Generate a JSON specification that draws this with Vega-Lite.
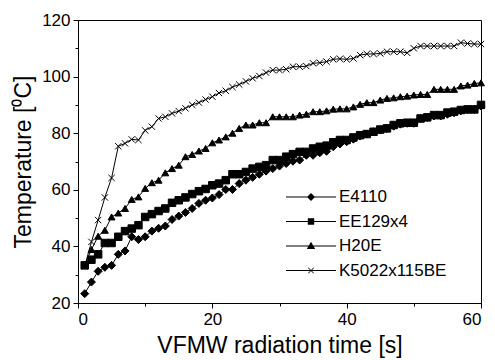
{
"$schema": "https://vega.github.io/schema/vega-lite/v6.json",
"width": 403, "height": 283,
"autosize": "none",
"padding": {"left": 78, "top": 20, "right": 14, "bottom": 57},
"background": "white",
"config": {
  "view": {"stroke": "black", "strokeWidth": 1},
  "font": "Liberation Sans",
  "axis": {"grid": false, "domainColor": "black", "tickColor": "black", "labelColor": "black", "titleColor": "black", "labelFont": "Liberation Sans", "titleFont": "Liberation Sans", "labelFontSize": 17, "titleFontSize": 23, "titleFontWeight": "normal", "domainWidth": 1, "tickWidth": 1}
},
"data": {"values": [
{"t":1,"s":"E4110","T":23.3},{"t":2,"s":"E4110","T":27.4},{"t":3,"s":"E4110","T":31.2},{"t":4,"s":"E4110","T":32.6},{"t":5,"s":"E4110","T":33.3},{"t":6,"s":"E4110","T":37.2},{"t":7,"s":"E4110","T":38.4},{"t":8,"s":"E4110","T":43.4},{"t":9,"s":"E4110","T":42.4},{"t":10,"s":"E4110","T":43.4},
{"t":11,"s":"E4110","T":45.4},{"t":12,"s":"E4110","T":46.4},{"t":13,"s":"E4110","T":47.2},{"t":14,"s":"E4110","T":49.5},{"t":15,"s":"E4110","T":50.7},{"t":16,"s":"E4110","T":52.0},{"t":17,"s":"E4110","T":53.4},{"t":18,"s":"E4110","T":55.2},{"t":19,"s":"E4110","T":56.3},{"t":20,"s":"E4110","T":57.1},
{"t":21,"s":"E4110","T":58.3},{"t":22,"s":"E4110","T":60.1},{"t":23,"s":"E4110","T":60.1},{"t":24,"s":"E4110","T":62.2},{"t":25,"s":"E4110","T":63.4},{"t":26,"s":"E4110","T":64.4},{"t":27,"s":"E4110","T":65.5},{"t":28,"s":"E4110","T":66.6},{"t":29,"s":"E4110","T":67.5},{"t":30,"s":"E4110","T":68.4},
{"t":31,"s":"E4110","T":69.3},{"t":32,"s":"E4110","T":70.1},{"t":33,"s":"E4110","T":70.5},{"t":34,"s":"E4110","T":72.2},{"t":35,"s":"E4110","T":72.2},{"t":36,"s":"E4110","T":73.1},{"t":37,"s":"E4110","T":73.6},{"t":38,"s":"E4110","T":75.2},{"t":39,"s":"E4110","T":76.2},{"t":40,"s":"E4110","T":77.0},
{"t":41,"s":"E4110","T":77.9},{"t":42,"s":"E4110","T":79.0},{"t":43,"s":"E4110","T":79.7},{"t":44,"s":"E4110","T":80.5},{"t":45,"s":"E4110","T":81.1},{"t":46,"s":"E4110","T":81.7},{"t":47,"s":"E4110","T":82.5},{"t":48,"s":"E4110","T":83.2},{"t":49,"s":"E4110","T":83.5},{"t":50,"s":"E4110","T":83.5},
{"t":51,"s":"E4110","T":85.2},{"t":52,"s":"E4110","T":85.6},{"t":53,"s":"E4110","T":86.1},{"t":54,"s":"E4110","T":86.1},{"t":55,"s":"E4110","T":86.7},{"t":56,"s":"E4110","T":87.2},{"t":57,"s":"E4110","T":87.9},{"t":58,"s":"E4110","T":88.4},{"t":59,"s":"E4110","T":88.4},{"t":60,"s":"E4110","T":89.6},
{"t":1,"s":"EE129x4","T":33.3},{"t":2,"s":"EE129x4","T":35.3},{"t":3,"s":"EE129x4","T":37.2},{"t":4,"s":"EE129x4","T":41.2},{"t":5,"s":"EE129x4","T":41.2},{"t":6,"s":"EE129x4","T":43.4},{"t":7,"s":"EE129x4","T":45.4},{"t":8,"s":"EE129x4","T":46.3},{"t":9,"s":"EE129x4","T":47.5},{"t":10,"s":"EE129x4","T":50.4},
{"t":11,"s":"EE129x4","T":51.4},{"t":12,"s":"EE129x4","T":52.5},{"t":13,"s":"EE129x4","T":53.4},{"t":14,"s":"EE129x4","T":55.4},{"t":15,"s":"EE129x4","T":56.3},{"t":16,"s":"EE129x4","T":57.3},{"t":17,"s":"EE129x4","T":58.5},{"t":18,"s":"EE129x4","T":59.5},{"t":19,"s":"EE129x4","T":60.3},{"t":20,"s":"EE129x4","T":61.6},
{"t":21,"s":"EE129x4","T":62.2},{"t":22,"s":"EE129x4","T":63.4},{"t":23,"s":"EE129x4","T":65.5},{"t":24,"s":"EE129x4","T":65.5},{"t":25,"s":"EE129x4","T":66.3},{"t":26,"s":"EE129x4","T":67.5},{"t":27,"s":"EE129x4","T":68.1},{"t":28,"s":"EE129x4","T":68.7},{"t":29,"s":"EE129x4","T":70.5},{"t":30,"s":"EE129x4","T":70.5},
{"t":31,"s":"EE129x4","T":71.7},{"t":32,"s":"EE129x4","T":72.6},{"t":33,"s":"EE129x4","T":73.4},{"t":34,"s":"EE129x4","T":73.4},{"t":35,"s":"EE129x4","T":74.6},{"t":36,"s":"EE129x4","T":75.2},{"t":37,"s":"EE129x4","T":75.6},{"t":38,"s":"EE129x4","T":76.8},{"t":39,"s":"EE129x4","T":77.6},{"t":40,"s":"EE129x4","T":77.6},
{"t":41,"s":"EE129x4","T":78.5},{"t":42,"s":"EE129x4","T":79.3},{"t":43,"s":"EE129x4","T":79.7},{"t":44,"s":"EE129x4","T":80.5},{"t":45,"s":"EE129x4","T":81.3},{"t":46,"s":"EE129x4","T":81.7},{"t":47,"s":"EE129x4","T":82.9},{"t":48,"s":"EE129x4","T":83.5},{"t":49,"s":"EE129x4","T":83.7},{"t":50,"s":"EE129x4","T":83.7},
{"t":51,"s":"EE129x4","T":85.2},{"t":52,"s":"EE129x4","T":85.6},{"t":53,"s":"EE129x4","T":86.4},{"t":54,"s":"EE129x4","T":86.4},{"t":55,"s":"EE129x4","T":87.3},{"t":56,"s":"EE129x4","T":87.6},{"t":57,"s":"EE129x4","T":88.2},{"t":58,"s":"EE129x4","T":88.4},{"t":59,"s":"EE129x4","T":88.4},{"t":60,"s":"EE129x4","T":90.0},
{"t":1,"s":"H20E","T":33.5},{"t":2,"s":"H20E","T":38.9},{"t":3,"s":"H20E","T":43.6},{"t":4,"s":"H20E","T":45.7},{"t":5,"s":"H20E","T":50.4},{"t":6,"s":"H20E","T":51.8},{"t":7,"s":"H20E","T":53.4},{"t":8,"s":"H20E","T":56.6},{"t":9,"s":"H20E","T":57.5},{"t":10,"s":"H20E","T":60.5},
{"t":11,"s":"H20E","T":62.5},{"t":12,"s":"H20E","T":63.4},{"t":13,"s":"H20E","T":66.0},{"t":14,"s":"H20E","T":67.5},{"t":15,"s":"H20E","T":68.7},{"t":16,"s":"H20E","T":71.7},{"t":17,"s":"H20E","T":72.5},{"t":18,"s":"H20E","T":73.7},{"t":19,"s":"H20E","T":74.6},{"t":20,"s":"H20E","T":76.6},
{"t":21,"s":"H20E","T":77.6},{"t":22,"s":"H20E","T":78.7},{"t":23,"s":"H20E","T":80.0},{"t":24,"s":"H20E","T":81.7},{"t":25,"s":"H20E","T":82.9},{"t":26,"s":"H20E","T":82.9},{"t":27,"s":"H20E","T":83.7},{"t":28,"s":"H20E","T":83.7},{"t":29,"s":"H20E","T":85.8},{"t":30,"s":"H20E","T":85.8},
{"t":31,"s":"H20E","T":85.8},{"t":32,"s":"H20E","T":85.8},{"t":33,"s":"H20E","T":86.4},{"t":34,"s":"H20E","T":86.7},{"t":35,"s":"H20E","T":87.6},{"t":36,"s":"H20E","T":87.6},{"t":37,"s":"H20E","T":87.9},{"t":38,"s":"H20E","T":88.5},{"t":39,"s":"H20E","T":88.6},{"t":40,"s":"H20E","T":88.6},
{"t":41,"s":"H20E","T":89.3},{"t":42,"s":"H20E","T":90.2},{"t":43,"s":"H20E","T":90.8},{"t":44,"s":"H20E","T":90.8},{"t":45,"s":"H20E","T":91.7},{"t":46,"s":"H20E","T":92.3},{"t":47,"s":"H20E","T":92.5},{"t":48,"s":"H20E","T":92.9},{"t":49,"s":"H20E","T":93.1},{"t":50,"s":"H20E","T":93.5},
{"t":51,"s":"H20E","T":93.7},{"t":52,"s":"H20E","T":93.7},{"t":53,"s":"H20E","T":95.5},{"t":54,"s":"H20E","T":95.5},{"t":55,"s":"H20E","T":95.5},{"t":56,"s":"H20E","T":95.5},{"t":57,"s":"H20E","T":96.7},{"t":58,"s":"H20E","T":97.0},{"t":59,"s":"H20E","T":97.6},{"t":60,"s":"H20E","T":97.8},
{"t":1,"s":"K5022x115BE","T":33.0},{"t":2,"s":"K5022x115BE","T":41.6},{"t":3,"s":"K5022x115BE","T":49.3},{"t":4,"s":"K5022x115BE","T":57.3},{"t":5,"s":"K5022x115BE","T":64.2},{"t":6,"s":"K5022x115BE","T":75.4},{"t":7,"s":"K5022x115BE","T":76.4},{"t":8,"s":"K5022x115BE","T":77.8},{"t":9,"s":"K5022x115BE","T":77.6},{"t":10,"s":"K5022x115BE","T":81.0},
{"t":11,"s":"K5022x115BE","T":82.3},{"t":12,"s":"K5022x115BE","T":85.2},{"t":13,"s":"K5022x115BE","T":85.8},{"t":14,"s":"K5022x115BE","T":87.0},{"t":15,"s":"K5022x115BE","T":87.8},{"t":16,"s":"K5022x115BE","T":88.8},{"t":17,"s":"K5022x115BE","T":90.0},{"t":18,"s":"K5022x115BE","T":90.8},{"t":19,"s":"K5022x115BE","T":91.9},{"t":20,"s":"K5022x115BE","T":92.9},
{"t":21,"s":"K5022x115BE","T":94.2},{"t":22,"s":"K5022x115BE","T":95.0},{"t":23,"s":"K5022x115BE","T":96.3},{"t":24,"s":"K5022x115BE","T":97.2},{"t":25,"s":"K5022x115BE","T":98.3},{"t":26,"s":"K5022x115BE","T":99.4},{"t":27,"s":"K5022x115BE","T":100.2},{"t":28,"s":"K5022x115BE","T":101.4},{"t":29,"s":"K5022x115BE","T":102.3},{"t":30,"s":"K5022x115BE","T":102.3},
{"t":31,"s":"K5022x115BE","T":102.6},{"t":32,"s":"K5022x115BE","T":103.5},{"t":33,"s":"K5022x115BE","T":103.5},{"t":34,"s":"K5022x115BE","T":103.7},{"t":35,"s":"K5022x115BE","T":104.7},{"t":36,"s":"K5022x115BE","T":104.9},{"t":37,"s":"K5022x115BE","T":105.3},{"t":38,"s":"K5022x115BE","T":106.1},{"t":39,"s":"K5022x115BE","T":106.3},{"t":40,"s":"K5022x115BE","T":106.1},
{"t":41,"s":"K5022x115BE","T":106.4},{"t":42,"s":"K5022x115BE","T":107.6},{"t":43,"s":"K5022x115BE","T":108.0},{"t":44,"s":"K5022x115BE","T":108.0},{"t":45,"s":"K5022x115BE","T":108.2},{"t":46,"s":"K5022x115BE","T":108.8},{"t":47,"s":"K5022x115BE","T":108.8},{"t":48,"s":"K5022x115BE","T":108.8},{"t":49,"s":"K5022x115BE","T":108.4},{"t":50,"s":"K5022x115BE","T":110.0},
{"t":51,"s":"K5022x115BE","T":110.8},{"t":52,"s":"K5022x115BE","T":110.8},{"t":53,"s":"K5022x115BE","T":110.8},{"t":54,"s":"K5022x115BE","T":110.8},{"t":55,"s":"K5022x115BE","T":110.8},{"t":56,"s":"K5022x115BE","T":110.8},{"t":57,"s":"K5022x115BE","T":112.0},{"t":58,"s":"K5022x115BE","T":111.7},{"t":59,"s":"K5022x115BE","T":111.5},{"t":60,"s":"K5022x115BE","T":111.5}
]},
"encoding": {
  "x": {"field": "t", "type": "quantitative", "scale": {"domain": [0, 60], "nice": false},
        "axis": {"title": "VFMW radiation time [s]", "values": [0,10,20,30,40,50,60], "labelExpr": "datum.value % 20 === 0 ? datum.label : ''", "tickSize": {"condition": {"test": "datum.value % 20 === 0", "value": 5}, "value": 3}, "labelPadding": 3, "titlePadding": 7}},
  "y": {"field": "T", "type": "quantitative", "scale": {"domain": [20, 120], "nice": false, "zero": false},
        "axis": {"title": "Temperature [⁰C]", "values": [20,30,40,50,60,70,80,90,100,110,120], "labelExpr": "datum.value % 20 === 0 ? datum.label : ''", "tickSize": {"condition": {"test": "datum.value % 20 === 0", "value": 5}, "value": 3}, "labelPadding": 3, "titlePadding": 6}}
},
"layer": [
  {"mark": {"type": "line", "color": "black", "strokeWidth": 1},
   "encoding": {"detail": {"field": "s", "type": "nominal"}}},
  {"mark": {"type": "point", "filled": true, "color": "black", "stroke": "black", "strokeWidth": 1, "opacity": 1},
   "encoding": {
     "shape": {"field": "s", "type": "nominal", "legend": null,
       "scale": {"domain": ["E4110","EE129x4","H20E","K5022x115BE"], "range": ["diamond","square","triangle-up","M-1,-1L1,1M1,-1L-1,1"]}},
     "size": {"field": "s", "type": "nominal", "legend": null,
       "scale": {"domain": ["E4110","EE129x4","H20E","K5022x115BE"], "range": [64, 40, 64, 45]}}
   }},
  {"transform": [{"filter": "datum.t > 1000"}],
   "mark": {"type": "point", "filled": true, "color": "black"},
   "encoding": {
     "shape": {"field": "s", "type": "nominal",
       "scale": {"domain": ["E4110","EE129x4","H20E","K5022x115BE"],
                 "range": ["M-2.5,-0.05H2.5V0.05H-2.5ZM-0.4,0L0,-0.4L0.4,0L0,0.4Z", "M-2.5,-0.05H2.5V0.05H-2.5ZM-0.32,-0.32H0.32V0.32H-0.32Z", "M-2.5,-0.05H2.5V0.05H-2.5ZM0,-0.42L0.42,0.3L-0.42,0.3Z", "M-2.5,-0.05H2.5V0.05H-2.5ZM-0.3,-0.25L-0.25,-0.3L0.3,0.25L0.25,0.3ZM0.25,-0.3L0.3,-0.25L-0.25,0.3L-0.3,0.25Z"]},
       "legend": {"title": null, "orient": "none", "legendX": 207, "legendY": 166, "symbolSize": 400, "symbolOffset": 15, "symbolFillColor": "black", "symbolOpacity": 1, "labelFont": "Liberation Sans", "labelFontSize": 17, "labelColor": "black", "labelOffset": 17, "rowPadding": 5.5, "padding": 0}}
   }}
],
"resolve": {"scale": {"shape": "independent", "size": "independent"}}
}
